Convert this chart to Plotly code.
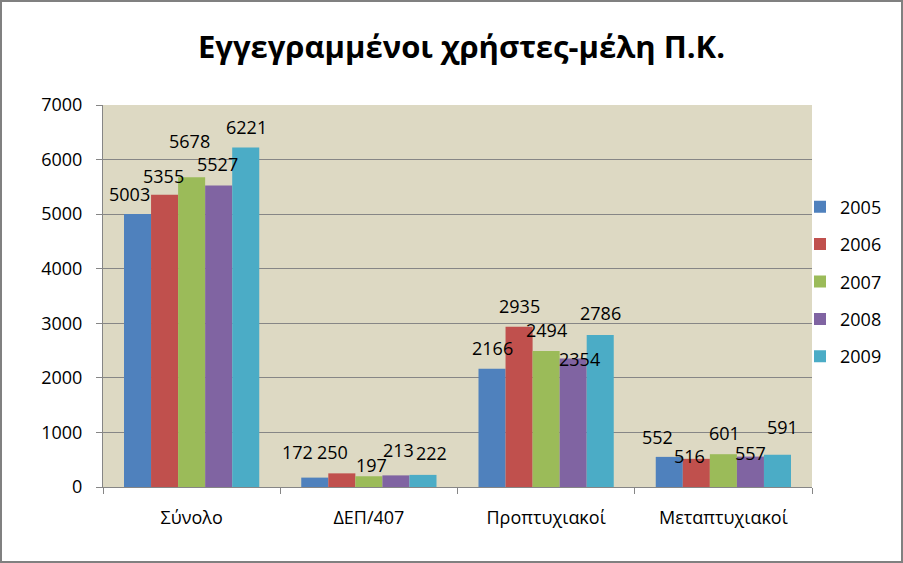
import plotly.graph_objects as go

categories = ["Σύνολο", "ΔΕΠ/407", "Προπτυχιακοί", "Μεταπτυχιακοί"]
years = ["2005", "2006", "2007", "2008", "2009"]
v2005 = [5003, 172, 2166, 552]
v2006 = [5355, 250, 2935, 516]
v2007 = [5678, 197, 2494, 601]
v2008 = [5527, 213, 2354, 557]
v2009 = [6221, 222, 2786, 591]
series = [v2005, v2006, v2007, v2008, v2009]
colors = ["#4F81BD", "#C0504D", "#9BBB59", "#8064A2", "#4BACC6"]

# label nudges in pixels (dx right, dy up from bar top to label centre), per series x category
label_dx = [[-8, -17, 0, -12], [-1, -9, 0, -7], [-2, 3, 0, 1], [-1, 3, 6, 0], [1, 9, 0, 5]]
label_dy = [[20, 26, 21, 20], [19, 21, 21, 3], [36, 11, 21, 21], [21, 25, 0, 4], [21, 22, 22, 28]]

W, H = 903, 563
ML, MR, MT, MB = 103, 91, 105, 76
BARGAP = 0.237
plot_w = W - ML - MR
plot_h = H - MT - MB
bw = plot_w / len(categories) * (1 - BARGAP) / len(years)

FONT = "Open Sans"
fig = go.Figure()
for i, (yr, vals) in enumerate(zip(years, series)):
    fig.add_trace(go.Bar(name=yr, x=categories, y=vals, marker_color=colors[i],
                         marker_line_width=0, legendgroup=yr))

ann = []
for i, vals in enumerate(series):
    for j, v in enumerate(vals):
        ann.append(dict(x=categories[j], y=v, xref="x", yref="y", text=str(v), showarrow=False,
                        xanchor="center", yanchor="middle",
                        xshift=(i - 2) * bw + label_dx[i][j], yshift=label_dy[i][j],
                        font=dict(family=FONT, size=18, color="#000000")))

fig.update_layout(
    width=W, height=H,
    margin=dict(l=ML, r=MR, t=MT, b=MB),
    paper_bgcolor="white",
    plot_bgcolor="#DDD9C3",
    barmode="group", bargap=BARGAP, bargroupgap=0,
    font=dict(family=FONT, size=18, color="#000000"),
    title=dict(text="<b>Εγγεγραμμένοι χρήστες-μέλη Π.Κ.</b>", x=461.5 / W, xanchor="center",
               y=1 - 47 / H, yanchor="middle", font=dict(family=FONT, size=31, color="#000000")),
    legend=dict(x=(800 - ML) / plot_w, xanchor="left", y=(H - MB - 281.5) / plot_h,
                yanchor="middle", yref="paper", font=dict(family=FONT, size=18),
                tracegroupgap=11, bgcolor="rgba(0,0,0,0)"),
    annotations=ann,
    shapes=[dict(type="rect", xref="paper", yref="paper",
                 x0=-(ML - 1) / plot_w, x1=1 + (MR - 1) / plot_w,
                 y0=-(MB - 1) / plot_h, y1=1 + (MT - 1) / plot_h,
                 line=dict(color="#808080", width=2), layer="below")],
)

fig.update_xaxes(showgrid=False, showline=True, linecolor="#868686", linewidth=1,
                 ticks="outside", tickson="boundaries", ticklen=6, tickcolor="#868686",
                 ticklabelstandoff=14, tickfont=dict(family=FONT, size=18), zeroline=False)
fig.update_yaxes(range=[0, 7000], dtick=1000, showgrid=True, gridcolor="#868686", gridwidth=1,
                 showline=True, linecolor="#868686", linewidth=1,
                 ticks="outside", ticklen=6, tickcolor="#868686", ticklabelstandoff=10,
                 tickfont=dict(family=FONT, size=18), zeroline=False)

fig.write_html("out.html")
